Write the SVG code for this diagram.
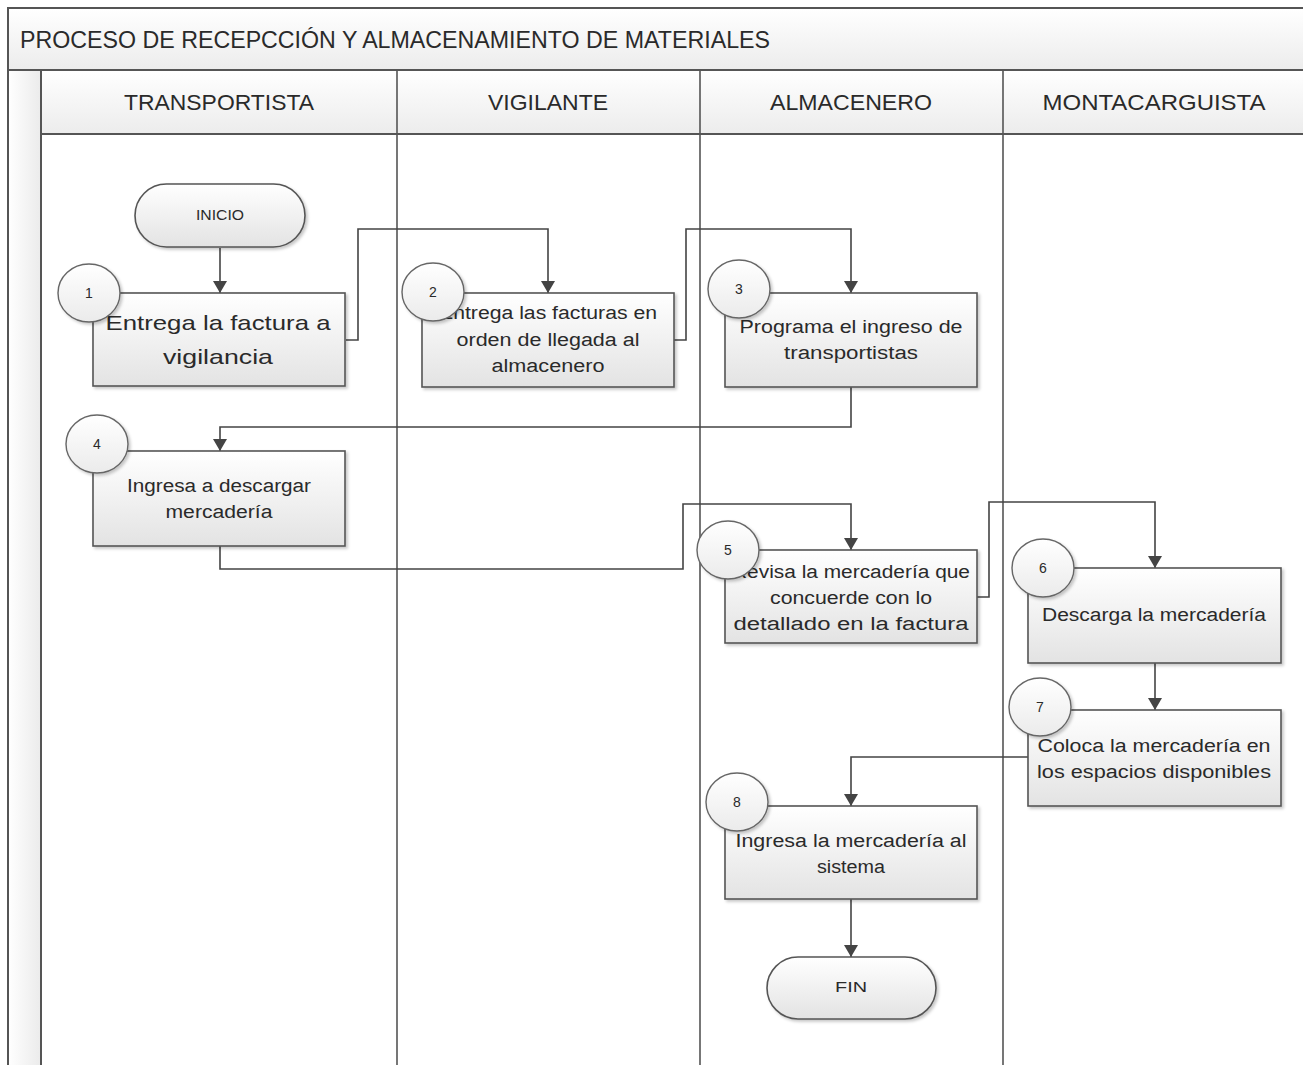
<svg xmlns="http://www.w3.org/2000/svg" width="1303" height="1065" viewBox="0 0 1303 1065">
<defs>
<style>
.t{font-family:"Liberation Sans",Arial,sans-serif;fill:#2a2a2a}
.frame{stroke:#555;stroke-width:2;fill:none}
.lane{stroke:#555;stroke-width:1.6;fill:none}
.box{fill:url(#gBox);stroke:#555;stroke-width:1.6;filter:url(#sh)}
.num{fill:url(#gCirc);stroke:#666;stroke-width:1.4;filter:url(#sh)}
.term{fill:url(#gBox);stroke:#555;stroke-width:1.6;filter:url(#sh)}
.conn{stroke:#444;stroke-width:1.6;fill:none;marker-end:url(#arr)}
.bt{font-size:18px;text-anchor:middle}
.nt{font-size:14px;text-anchor:middle}
.hd{font-size:22px;text-anchor:middle}
</style>
<linearGradient id="gBox" x1="0" y1="0" x2="0" y2="1"><stop offset="0" stop-color="#ffffff"/><stop offset="1" stop-color="#e3e3e3"/></linearGradient>
<linearGradient id="gCirc" x1="0" y1="0" x2="0" y2="1"><stop offset="0" stop-color="#ffffff"/><stop offset="1" stop-color="#ebebeb"/></linearGradient>
<linearGradient id="gHead" x1="0" y1="0" x2="0" y2="1"><stop offset="0" stop-color="#ffffff"/><stop offset="1" stop-color="#ececec"/></linearGradient>
<linearGradient id="gStrip" x1="0" y1="0" x2="1" y2="0"><stop offset="0" stop-color="#ffffff"/><stop offset="1" stop-color="#ebebeb"/></linearGradient>
<filter id="sh" x="-10%" y="-10%" width="130%" height="130%"><feDropShadow dx="2" dy="2" stdDeviation="1.5" flood-color="#000" flood-opacity="0.22"/></filter>
<marker id="arr" viewBox="0 0 12 14" refX="12" refY="7" markerWidth="12" markerHeight="14" markerUnits="userSpaceOnUse" orient="auto"><path d="M0,0 L12,7 L0,14 Z" fill="#444"/></marker>
</defs>

<g id="pool">
<rect x="8" y="8" width="1300" height="1062" fill="#ffffff"/>
<rect x="8" y="8" width="1300" height="62" fill="url(#gHead)"/>
<rect x="8" y="70" width="33" height="1000" fill="url(#gStrip)"/>
<rect x="41" y="70" width="1267" height="64" fill="url(#gHead)"/>
<path class="frame" d="M8,1070 V8 H1310 M8,70 H1310 M41,70 V1070 M41,134 H1310"/>
<path class="lane" d="M397,70 V1070 M700,70 V1070 M1003,70 V1070"/>
<text class="t" x="20" y="48" font-size="23" textLength="750" lengthAdjust="spacingAndGlyphs">PROCESO DE RECEPCCIÓN Y ALMACENAMIENTO DE MATERIALES</text>
<text class="t hd" x="219" y="110" textLength="190" lengthAdjust="spacingAndGlyphs">TRANSPORTISTA</text>
<text class="t hd" x="548" y="110" textLength="120" lengthAdjust="spacingAndGlyphs">VIGILANTE</text>
<text class="t hd" x="851" y="110" textLength="162" lengthAdjust="spacingAndGlyphs">ALMACENERO</text>
<text class="t hd" x="1154" y="110" textLength="223" lengthAdjust="spacingAndGlyphs">MONTACARGUISTA</text>
</g>

<g id="connectors">
<path class="conn" d="M220,248 V293"/>
<path class="conn" d="M346,340 H358 V229 H548 V293"/>
<path class="conn" d="M674,340 H686 V229 H851 V293"/>
<path class="conn" d="M851,387 V427 H220 V451"/>
<path class="conn" d="M220,546 V569 H683 V504 H851 V550"/>
<path class="conn" d="M977,597 H989 V502 H1155 V568"/>
<path class="conn" d="M1155,663 V710"/>
<path class="conn" d="M1028,757 H851 V806"/>
<path class="conn" d="M851,899 V957"/>
</g>

<g id="inicio">
<rect class="term" x="135" y="184" width="170" height="63" rx="31.5" ry="31.5"/>
<text class="t nt" x="220" y="220" textLength="48" lengthAdjust="spacingAndGlyphs">INICIO</text>
</g>

<g id="step1">
<rect class="box" x="93" y="293" width="252" height="93"/>
<text class="t" x="218" y="330" font-size="21" text-anchor="middle" textLength="225" lengthAdjust="spacingAndGlyphs">Entrega la factura a</text>
<text class="t" x="218" y="364" font-size="21" text-anchor="middle" textLength="110" lengthAdjust="spacingAndGlyphs">vigilancia</text>
<ellipse class="num" cx="89" cy="293" rx="31" ry="29"/>
<text class="t nt" x="89" y="298">1</text>
</g>

<g id="step2">
<rect class="box" x="422" y="293" width="252" height="94"/>
<text class="t bt" x="548" y="319" textLength="218" lengthAdjust="spacingAndGlyphs">Entrega las facturas en</text>
<text class="t bt" x="548" y="346" textLength="183" lengthAdjust="spacingAndGlyphs">orden de llegada al</text>
<text class="t bt" x="548" y="372" textLength="113" lengthAdjust="spacingAndGlyphs">almacenero</text>
<ellipse class="num" cx="433" cy="292" rx="31" ry="29"/>
<text class="t nt" x="433" y="297">2</text>
</g>

<g id="step3">
<rect class="box" x="725" y="293" width="252" height="94"/>
<text class="t bt" x="851" y="333" textLength="223" lengthAdjust="spacingAndGlyphs">Programa el ingreso de</text>
<text class="t bt" x="851" y="359" textLength="134" lengthAdjust="spacingAndGlyphs">transportistas</text>
<ellipse class="num" cx="739" cy="289" rx="31" ry="29"/>
<text class="t nt" x="739" y="294">3</text>
</g>

<g id="step4">
<rect class="box" x="93" y="451" width="252" height="95"/>
<text class="t bt" x="219" y="492" textLength="184" lengthAdjust="spacingAndGlyphs">Ingresa a descargar</text>
<text class="t bt" x="219" y="518" textLength="107" lengthAdjust="spacingAndGlyphs">mercadería</text>
<ellipse class="num" cx="97" cy="444" rx="31" ry="29"/>
<text class="t nt" x="97" y="449">4</text>
</g>

<g id="step5">
<rect class="box" x="725" y="550" width="252" height="93"/>
<text class="t bt" x="851" y="578" textLength="238" lengthAdjust="spacingAndGlyphs">Revisa la mercadería que</text>
<text class="t bt" x="851" y="604" textLength="162" lengthAdjust="spacingAndGlyphs">concuerde con lo</text>
<text class="t bt" x="851" y="630" textLength="235" lengthAdjust="spacingAndGlyphs">detallado en la factura</text>
<ellipse class="num" cx="728" cy="550" rx="31" ry="29"/>
<text class="t nt" x="728" y="555">5</text>
</g>

<g id="step6">
<rect class="box" x="1028" y="568" width="253" height="95"/>
<text class="t bt" x="1154" y="621" textLength="224" lengthAdjust="spacingAndGlyphs">Descarga la mercadería</text>
<ellipse class="num" cx="1043" cy="568" rx="31" ry="29"/>
<text class="t nt" x="1043" y="573">6</text>
</g>

<g id="step7">
<rect class="box" x="1028" y="710" width="253" height="96"/>
<text class="t bt" x="1154" y="752" textLength="233" lengthAdjust="spacingAndGlyphs">Coloca la mercadería en</text>
<text class="t bt" x="1154" y="778" textLength="234" lengthAdjust="spacingAndGlyphs">los espacios disponibles</text>
<ellipse class="num" cx="1040" cy="707" rx="31" ry="29"/>
<text class="t nt" x="1040" y="712">7</text>
</g>

<g id="step8">
<rect class="box" x="725" y="806" width="252" height="93"/>
<text class="t bt" x="851" y="847" textLength="231" lengthAdjust="spacingAndGlyphs">Ingresa la mercadería al</text>
<text class="t bt" x="851" y="873" textLength="68" lengthAdjust="spacingAndGlyphs">sistema</text>
<ellipse class="num" cx="737" cy="802" rx="31" ry="29"/>
<text class="t nt" x="737" y="807">8</text>
</g>

<g id="fin">
<rect class="term" x="767" y="957" width="169" height="62" rx="31" ry="31"/>
<text class="t nt" x="851" y="992" textLength="32" lengthAdjust="spacingAndGlyphs">FIN</text>
</g>
</svg>
